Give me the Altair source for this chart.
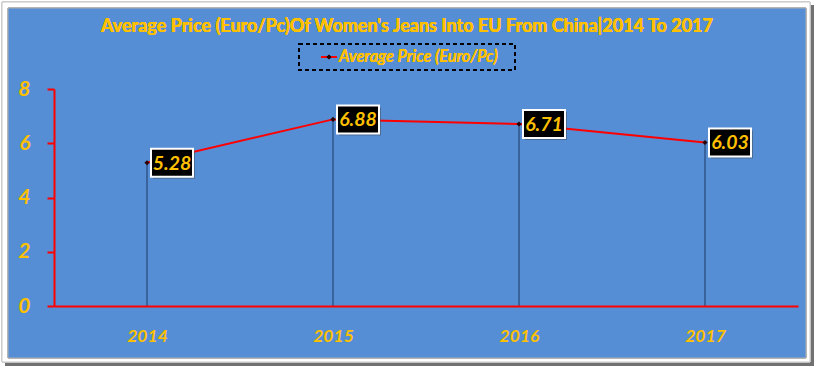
import altair as alt
import pandas as pd

years = ["2014", "2015", "2016", "2017"]
prices = [5.28, 6.88, 6.71, 6.03]
y_ticks = [0, 2, 4, 6, 8]
title_text = "Average Price (Euro/Pc)Of Women's Jeans Into EU From China|2014 To 2017"
legend_text = "Average Price (Euro/Pc)"

df = pd.DataFrame({"year": years, "price": prices})

FONT = "Lato"
YEL = "#FFC000"
RED = "#FF0000"
BLUE = "#558ED5"

W, H = 744, 217
L, T = 54, 89

x_enc = alt.X("year:N", sort=years,
              scale=alt.Scale(type="point", padding=0.5),
              axis=alt.Axis(title=None, ticks=False, labelAngle=0, domainColor=RED,
                            domainWidth=2, labelPadding=21, labelFont=FONT,
                            labelFontSize=17.5, labelFontWeight="bold",
                            labelFontStyle="italic", labelColor=YEL, zindex=1))
y_enc = alt.Y("price:Q",
              scale=alt.Scale(domain=[0, 8], nice=False),
              axis=alt.Axis(title=None, values=y_ticks, grid=False, domainColor=RED,
                            domainWidth=2, tickColor=RED, tickWidth=2, tickSize=7,
                            labelPadding=17, labelFont=FONT, labelFontSize=21,
                            labelFontWeight="bold", labelFontStyle="italic",
                            labelColor=YEL, zindex=1))

base = alt.Chart(df)

# frame decorations (panel background)
shadow = base.mark_rect(fill="#6e6e6e", opacity=0.6).encode(
    x=alt.value(-49), x2=alt.value(760), y=alt.value(-84), y2=alt.value(277))
frame = base.mark_rect(fill="#ffffff", stroke="#c8c8c8", strokeWidth=1).encode(
    x=alt.value(-52), x2=alt.value(756), y=alt.value(-87), y2=alt.value(273))
panel = base.mark_rect(fill=BLUE, stroke="#b0b0b0", strokeWidth=1).encode(
    x=alt.value(-46), x2=alt.value(752), y=alt.value(-81), y2=alt.value(269))

title = base.mark_text(font=FONT, fontSize=18, fontWeight="bold", color=YEL,
                       align="center", baseline="middle").encode(
    x=alt.value(353), y=alt.value(-62), text=alt.value(title_text))

leg_box = base.mark_rect(fill=None, stroke="#000000", strokeWidth=1.5,
                         strokeDash=[4, 3]).encode(
    x=alt.value(245), x2=alt.value(461), y=alt.value(-45), y2=alt.value(-19))
leg_line = base.mark_rule(color=RED, strokeWidth=2).encode(
    x=alt.value(267), x2=alt.value(283), y=alt.value(-32))
leg_pt = base.mark_point(shape="diamond", filled=True, color="#2a0000", size=22,
                         opacity=1).encode(x=alt.value(275), y=alt.value(-32))
leg_text = base.mark_text(font=FONT, fontSize=16.3, fontWeight=600, fontStyle="italic",
                          color=YEL, align="left", baseline="middle").encode(
    x=alt.value(285), y=alt.value(-32), text=alt.value(legend_text))

drops = base.mark_rule(color="#1F3864", strokeWidth=1).encode(
    x=x_enc, y=y_enc, y2=alt.datum(0))
line = base.mark_line(color=RED, strokeWidth=2).encode(x=x_enc, y=y_enc)
pts = base.mark_point(shape="diamond", filled=True, color="#2a0000", size=26,
                      opacity=1).encode(x=x_enc, y=y_enc)
box_shadow = base.mark_point(shape="M6,-12H48V16H6Z", size=4, filled=True,
                             color="#404040", opacity=0.45).encode(x=x_enc, y=y_enc)
box = base.mark_point(shape="M4,-14H46V14H4Z", size=4, filled=True, fill="#000000",
                      stroke="#ffffff", strokeWidth=2, opacity=1).encode(x=x_enc, y=y_enc)
labels = base.mark_text(font=FONT, fontSize=19.5, fontWeight="bold", fontStyle="italic",
                        color=YEL, align="center", baseline="middle", dx=25, dy=1).encode(
    x=x_enc, y=y_enc, text=alt.Text("price:Q", format=".2f"))

chart = alt.layer(
    shadow, frame, panel, title, leg_box, leg_line, leg_pt, leg_text,
    drops, line, pts, box_shadow, box, labels
).properties(
    width=W, height=H,
    autosize=alt.AutoSizeParams(type="none"),
    padding={"left": L, "top": T, "right": 820 - L - W, "bottom": 370 - T - H},
    background="#ffffff",
).configure_view(stroke=None)

chart.save("out.html", embed_options={"renderer": "svg", "actions": False})
